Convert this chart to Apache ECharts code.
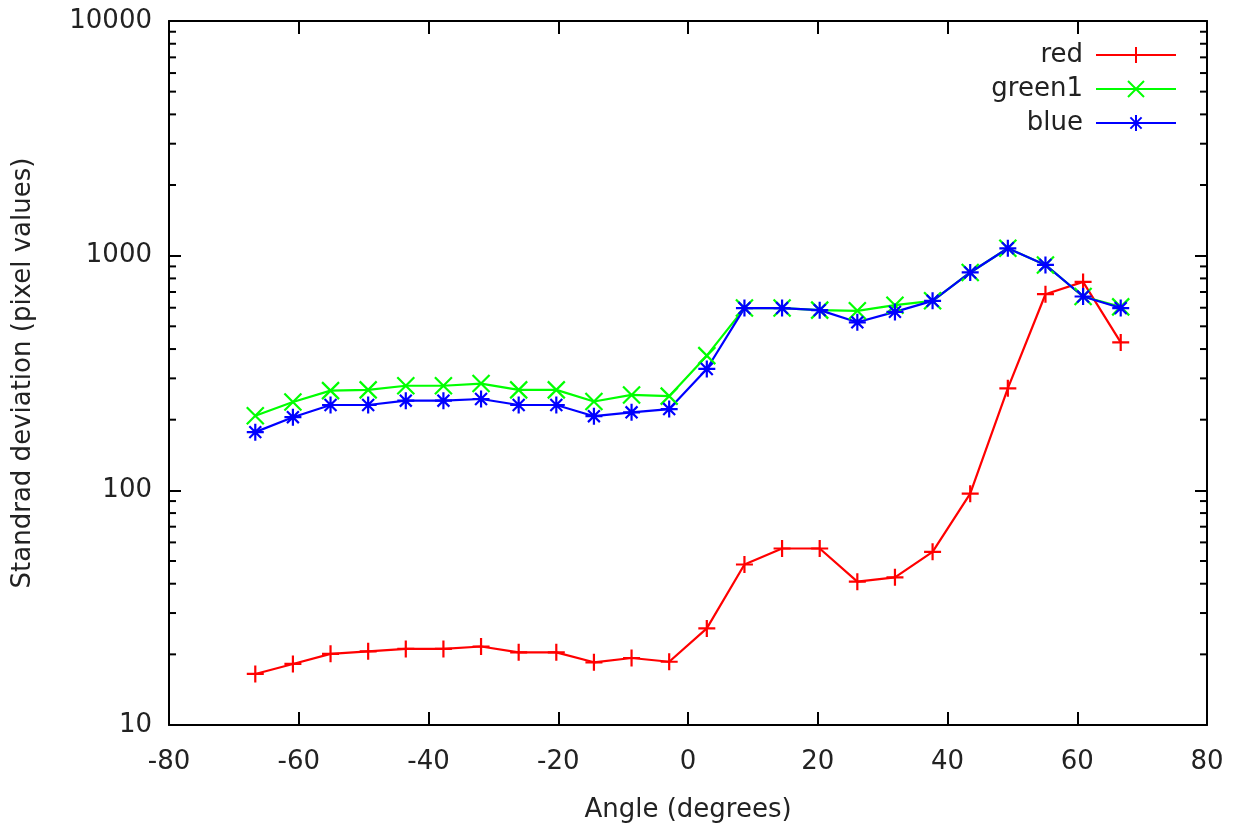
<!DOCTYPE html>
<html>
<head>
<meta charset="utf-8">
<script src="https://cdn.jsdelivr.net/npm/echarts@6/dist/echarts.min.js"></script>
<style>
  html, body { margin: 0; padding: 0; background: #fff; }
  #chart { width: 1233px; height: 828px; }
</style>
</head>
<body>
<div id="chart"></div>
<script>
// angle of each measurement (degrees)
const angles = [-66.7, -60.9, -55.1, -49.3, -43.5, -37.7, -31.9, -26.1, -20.3, -14.5, -8.7, -2.9,
                2.9, 8.7, 14.5, 20.3, 26.1, 31.9, 37.7, 43.5, 49.3, 55.1, 60.9, 66.7];

const redValues = [16.5, 18.2, 20.1, 20.6, 21.1, 21.1, 21.6, 20.4, 20.4, 18.5, 19.3, 18.6,
                   25.8, 48.3, 56.5, 56.5, 40.8, 42.6, 54.7, 96.8, 272, 685, 773, 427];
const greenValues = [208, 238, 266, 268, 279, 279, 285, 268, 268, 239, 255, 252,
                     375, 598, 598, 586, 582, 615, 642, 848, 1075, 913, 670, 605];
const blueValues = [177, 205, 231, 231, 241, 241, 245, 231, 231, 207, 215, 222,
                    329, 598, 598, 586, 520, 576, 642, 848, 1075, 913, 670, 598];

const yTickLabels = [10, 100, 1000, 10000];

// log minor ticks 2..9 within each decade
const minorTicks = [];
[10, 100, 1000].forEach((d) => {
  for (let k = 2; k <= 9; k++) minorTicks.push(d * k);
});

const PLUS = "path://M0,5L10,5M5,0L5,10";
const CROSS = "path://M0,0L10,10M0,10L10,0";
const STAR = "path://M0,5L10,5M5,0L5,10M1.5,1.5L8.5,8.5M1.5,8.5L8.5,1.5";

const FONT = "DejaVu Sans";
const TEXT = "#222";
const FS = 26;

const chart = echarts.init(document.getElementById("chart"), null, { renderer: "canvas" });

const pair = (vals) => angles.map((a, i) => [a, vals[i]]);

const lineSeries = (name, vals, color, symbol) => ({
  name,
  type: "line",
  data: pair(vals),
  symbol,
  symbolSize: 17,
  showSymbol: true,
  lineStyle: { width: 2.2, color },
  itemStyle: { color, borderColor: color, borderWidth: 2.2 },
  emphasis: { disabled: true },
  animation: false,
  z: 3,
});

const frameAxis = { onZero: false, lineStyle: { color: "#000", width: 2 } };
const tickStyle = { color: "#000", width: 2 };

chart.setOption({
  backgroundColor: "#fff",
  animation: false,
  textStyle: { fontFamily: FONT },
  grid: { left: 169, right: 26, top: 21, bottom: 101 },
  legend: {
    data: ["red", "green1", "blue"],
    orient: "vertical",
    right: 51,
    top: 37,
    align: "right",
    itemWidth: 80,
    itemHeight: 20,
    itemGap: 8,
    selectedMode: false,
    textStyle: { color: TEXT, fontSize: FS, fontFamily: FONT, lineHeight: 26, padding: [0, 8, 0, 0] },
  },
  xAxis: [
    {
      type: "value",
      min: -80,
      max: 80,
      interval: 20,
      name: "Angle (degrees)",
      nameLocation: "middle",
      nameGap: 72,
      nameTextStyle: { color: TEXT, fontSize: FS, fontFamily: FONT },
      axisLine: frameAxis,
      axisTick: { inside: true, length: 13, lineStyle: tickStyle },
      axisLabel: { color: TEXT, fontSize: FS, fontFamily: FONT, margin: 24 },
      splitLine: { show: false },
    },
    {
      type: "value",
      position: "top",
      min: -80,
      max: 80,
      interval: 20,
      axisLine: frameAxis,
      axisTick: { inside: true, length: 13, lineStyle: tickStyle },
      axisLabel: { show: false },
      splitLine: { show: false },
    },
  ],
  yAxis: [
    {
      type: "log",
      logBase: 10,
      min: 10,
      max: 10000,
      name: "Standrad deviation (pixel values)",
      nameLocation: "middle",
      nameGap: 133,
      nameTextStyle: { color: TEXT, fontSize: FS, fontFamily: FONT },
      axisLine: frameAxis,
      axisTick: { inside: true, length: 12, lineStyle: tickStyle },
      axisLabel: {
        color: TEXT,
        fontSize: FS,
        fontFamily: FONT,
        margin: 17,
        formatter: (v) => (yTickLabels.includes(Math.round(v)) ? String(Math.round(v)) : ""),
      },
      splitLine: { show: false },
    },
    {
      type: "log",
      logBase: 10,
      min: 10,
      max: 10000,
      position: "right",
      axisLine: frameAxis,
      axisTick: { inside: true, length: 12, lineStyle: tickStyle },
      axisLabel: { show: false },
      splitLine: { show: false },
    },
  ],
  series: [
    lineSeries("red", redValues, "#ff0000", PLUS),
    lineSeries("green1", greenValues, "#00ff00", CROSS),
    lineSeries("blue", blueValues, "#0000ff", STAR),
    {
      name: "minorTicks",
      type: "custom",
      silent: true,
      animation: false,
      data: minorTicks.map((v) => [-80, v]),
      renderItem: (params, api) => {
        const v = api.value(1);
        const l = api.coord([-80, v]);
        const r = api.coord([80, v]);
        const style = { stroke: "#000", lineWidth: 2 };
        return {
          type: "group",
          children: [
            { type: "line", shape: { x1: l[0], y1: l[1], x2: l[0] + 7, y2: l[1] }, style },
            { type: "line", shape: { x1: r[0], y1: r[1], x2: r[0] - 7, y2: r[1] }, style },
          ],
        };
      },
      z: 1,
    },
  ],
});
</script>
</body>
</html>
